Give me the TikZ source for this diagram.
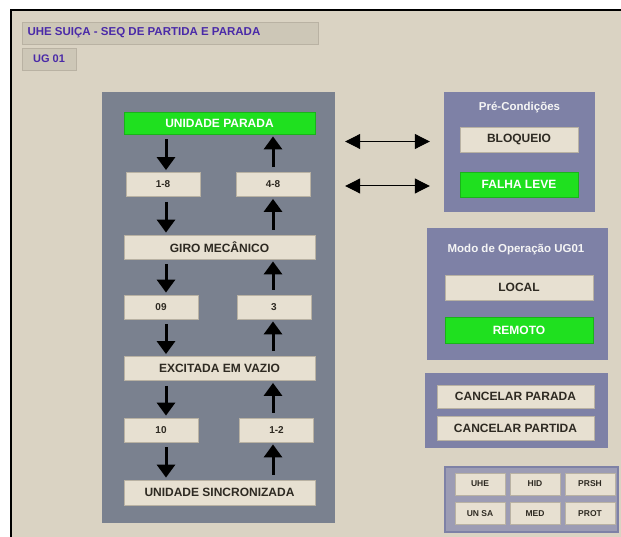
\documentclass[tikz,border=0pt]{standalone}
\usepackage{fontspec}
\setmainfont{Liberation Sans}
\usetikzlibrary{arrows.meta}

\definecolor{bgbeige}{HTML}{DAD3C3}
\definecolor{stackgrey}{HTML}{7A818F}
\definecolor{sidepanel}{HTML}{7E81A6}
\definecolor{btnfill}{HTML}{E7E0D1}
\definecolor{btnedge}{HTML}{B9B2A3}
\definecolor{litegreen}{HTML}{1FE01F}
\definecolor{titlefill}{HTML}{CDC7B7}
\definecolor{titleink}{HTML}{4A2AA8}
\definecolor{btnink}{HTML}{2E2A22}
\definecolor{keypanel}{HTML}{9C9CB4}

\tikzset{
  panel/.style={draw=none, inner sep=0pt},
  btn/.style={draw=btnedge, line width=0.8pt, fill=btnfill, inner sep=0pt,
    text=btnink, font=\fontsize{12}{14}\selectfont\bfseries},
  gbtn/.style={btn, fill=litegreen, draw=litegreen!80!black, text=white},
  smallbtn/.style={btn, minimum width=50pt, minimum height=22pt,
    font=\fontsize{8.5}{10}\selectfont\bfseries},
  stepnum/.style={btn, minimum width=74pt, minimum height=24pt,
    font=\fontsize{10}{12}\selectfont\bfseries},
  stagebox/.style={btn, minimum width=191pt, minimum height=24pt},
  flowarrow/.style={line width=3pt, -{Triangle[length=13pt,width=18pt]}},
  linkarrow/.style={line width=1pt, {Triangle[length=15pt,width=15pt]}-{Triangle[length=15pt,width=15pt]}},
  paneltitle/.style={text=white!92!gray, font=\fontsize{11.5}{13}\selectfont\bfseries},
}

\begin{document}
\begin{tikzpicture}[x=1pt, y=-1pt]
  % canvas and frame
  \fill[white] (0,0) rectangle (621,537);
  \useasboundingbox (0,0) rectangle (621,537);
  \fill[bgbeige] (11,10) rectangle (621,537);
  \draw[black, line width=2.2pt] (11,537) -- (11,10) -- (621,10);

  % header
  \node[panel, fill=titlefill, draw=btnedge, line width=0.8pt,
        minimum width=296pt, minimum height=22pt] (title) at (170,33) {};
  \node[anchor=west, text=titleink, font=\fontsize{11.5}{13}\selectfont\bfseries]
        (titletxt) at (24,33) {UHE SUIÇA - SEQ DE PARTIDA E PARADA};
  \node[btn, fill=titlefill, text=titleink, minimum width=54pt, minimum height=22pt,
        font=\fontsize{11}{13}\selectfont\bfseries] (ug) at (49,59) {UG 01};

  % sequence panel
  \node[panel, fill=stackgrey, minimum width=233pt, minimum height=431pt] (main) at (218.5,307.5) {};

  \node[gbtn, minimum width=191pt, minimum height=22pt] (parada) at (219.5,123) {UNIDADE PARADA};
  \node[stepnum] (s18) at (163,184.5) {1-8};
  \node[stepnum] (s48) at (273,184.5) {4-8};
  \node[stagebox] (giro) at (219.5,247) {GIRO MECÂNICO};
  \node[stepnum] (s09) at (161,307) {09};
  \node[stepnum] (s3) at (274,307) {3};
  \node[stagebox] (exc) at (219.5,368.5) {EXCITADA EM VAZIO};
  \node[stepnum] (s10) at (161,430) {10};
  \node[stepnum] (s12) at (276.5,430) {1-2};
  \node[stagebox, minimum height=25pt] (sinc) at (219.5,492.5) {UNIDADE SINCRONIZADA};

  \coordinate (downx) at (166,0);
  \coordinate (upx) at (273,0);

  % start-up path (down)
  \foreach \a/\b in {parada/s18, s18/giro, giro/s09, s09/exc, exc/s10, s10/sinc}
    \draw[flowarrow] ([yshift=-5pt]\a.south -| downx) -- ([yshift=2pt]\b.north -| downx);
  % shut-down path (up)
  \foreach \a/\b in {sinc/s12, s12/exc, exc/s3, s3/giro, giro/s48, s48/parada}
    \draw[flowarrow] ([yshift=5pt]\a.north -| upx) -- ([yshift=-2pt]\b.south -| upx);

  % pre-conditions
  \node[panel, fill=sidepanel, minimum width=151pt, minimum height=120pt] (pre) at (519.5,152) {};
  \node[paneltitle] (pretitle) at (519.5,107) {Pré-Condições};
  \node[btn, minimum width=118pt, minimum height=25pt] (bloq) at (519,139.5) {BLOQUEIO};
  \node[gbtn, minimum width=118pt, minimum height=25pt] (falha) at (519,184.5) {FALHA LEVE};

  \draw[linkarrow] ([xshift=10pt,yshift=-2pt]main.east |- bloq) -- ([xshift=-14pt,yshift=-2pt]pre.west |- bloq);
  \draw[linkarrow] ([xshift=10pt,yshift=-1.5pt]main.east |- falha) -- ([xshift=-14pt,yshift=-1.5pt]pre.west |- falha);

  % operation mode
  \node[panel, fill=sidepanel, minimum width=181pt, minimum height=132pt] (modo) at (517.5,294) {};
  \node[paneltitle] (modotitle) at (516,250) {Modo de Operação UG01};
  \node[btn, minimum width=148pt, minimum height=25pt] (local) at (519,287.5) {LOCAL};
  \node[gbtn, minimum width=148pt, minimum height=26pt] (remoto) at (519,330) {REMOTO};

  % cancel commands
  \node[panel, fill=sidepanel, minimum width=183pt, minimum height=75pt] (cancel) at (516.5,410.5) {};
  \node[btn, minimum width=157pt, minimum height=23pt] (cparada) at (515.5,396.5) {CANCELAR PARADA};
  \node[btn, minimum width=157pt, minimum height=24pt] (cpartida) at (515.5,428) {CANCELAR PARTIDA};

  % navigation keys
  \node[panel, fill=keypanel, draw=sidepanel, line width=2pt, minimum width=173pt, minimum height=65pt] (keys) at (531.5,499.5) {};
  \node[smallbtn] (kuhe) at (480,484) {UHE};
  \node[smallbtn] (khid) at (535,484) {HID};
  \node[smallbtn] (kprsh) at (590,484) {PRSH};
  \node[smallbtn] (kunsa) at (480,513.5) {UN SA};
  \node[smallbtn] (kmed) at (535,513.5) {MED};
  \node[smallbtn] (kprot) at (590,513.5) {PROT};
\end{tikzpicture}
\end{document}
